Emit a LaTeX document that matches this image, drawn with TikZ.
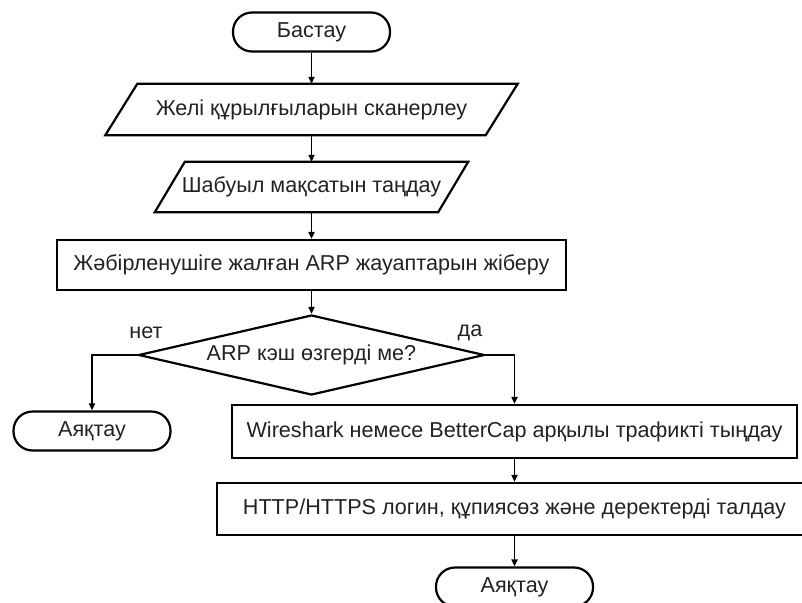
\documentclass[tikz,border=0pt]{standalone}
\usepackage{fontspec}
\setmainfont{Liberation Sans}
\usetikzlibrary{shapes.geometric,arrows.meta}
\definecolor{txt}{HTML}{222222}
\begin{document}
\begin{tikzpicture}[x=1pt,y=-1pt,
  every node/.style={font=\fontsize{21.6}{25}\selectfont, text=txt},
  term/.style={draw, line width=2.2pt, rounded corners=19pt, minimum width=157pt, minimum height=39pt, inner sep=0pt},
  proc/.style={draw, line width=2.2pt, inner sep=0pt},
  io/.style={inner sep=0pt},
  shp/.style={draw, line width=2.2pt, line join=miter},
  dec/.style={draw, diamond, line width=2.2pt, inner sep=0pt, aspect=4},
  arr/.style={line width=1.8pt, -{Triangle[length=7pt,width=6pt]}},
  lbl/.style={inner sep=0pt},
]
\useasboundingbox (0,0) rectangle (802,602);

\node[term] (start) at (311.5,32) {Бастау};

\node[io, minimum width=412pt, minimum height=51pt] (p1) at (311.5,109.5) {Желі құрылғыларын сканерлеу};
\draw[shp] ([xshift=32pt]p1.north west) -- (p1.north east) -- ([xshift=-32pt]p1.south east) -- (p1.south west) -- cycle;

\node[io, minimum width=313pt, minimum height=50pt] (p2) at (311.5,187) {Шабуыл мақсатын таңдау};
\draw[shp] ([xshift=30pt]p2.north west) -- (p2.north east) -- ([xshift=-30pt]p2.south east) -- (p2.south west) -- cycle;

\node[proc, minimum width=509pt, minimum height=50pt] (r1) at (311.5,265) {Жәбірленушіге жалған ARP жауаптарын жіберу};

\node[dec, minimum width=346pt, minimum height=80pt] (d) at (311.5,355) {ARP кэш өзгерді ме?};

\node[term] (endL) at (92,431) {Аяқтау};

\node[proc, minimum width=565pt, minimum height=53pt] (r2) at (514.5,431.5) {Wireshark немесе BetterCap арқылы трафикті тыңдау};

\node[proc, minimum width=595pt, minimum height=52pt] (r3) at (514.5,509) {HTTP/HTTPS логин, құпиясөз және деректерді талдау};

\node[term] (endR) at (514.5,587) {Аяқтау};

\node[lbl] (no) at (146,333) {нет};
\node[lbl] (yes) at (470,333) {да};

\draw[arr] (start) -- (p1);
\draw[arr] (p1) -- (p2);
\draw[arr] (p2) -- (r1);
\draw[arr] (r1) -- (d);
\draw[arr] (d.west) -| (endL.north);
\draw[arr] (d.east) -| (r2.north);
\draw[arr] (r2) -- (r3);
\draw[arr] (r3) -- (endR);
\end{tikzpicture}
\end{document}
